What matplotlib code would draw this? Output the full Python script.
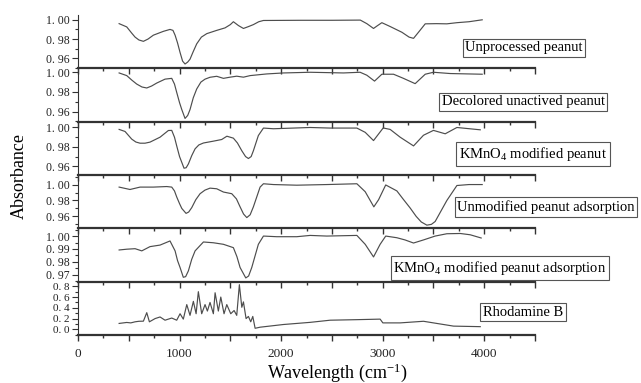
"""
FTIR spectra of peanut shell samples and Rhodamine B
"""
import numpy as np
import matplotlib
matplotlib.use('Agg')
import matplotlib.pyplot as plt
from matplotlib.ticker import MultipleLocator, FuncFormatter

plt.rcParams['font.family'] = ['Liberation Serif', 'DejaVu Serif']
plt.rcParams['mathtext.default'] = 'regular'

# Data (wavenumber, absorbance)
wn_unprocessed = [405, 480, 530, 562, 600, 644, 690, 742, 841, 906, 935, 956, 980, 1005, 1030, 1054, 1080,
                  1103, 1135, 1169, 1215, 1268, 1366, 1448, 1500, 1530, 1580, 1629, 1680, 1727, 1780, 1826,
                  2200, 2500, 2780, 2844, 2910, 2950, 2992, 3074, 3190, 3260, 3304, 3360, 3419, 3530, 3632,
                  3731, 3850, 3980]
ab_unprocessed = [0.996, 0.9926, 0.986, 0.982, 0.979, 0.9776, 0.980, 0.984, 0.988, 0.990, 0.989, 0.984,
                  0.976, 0.966, 0.957, 0.954, 0.956, 0.959, 0.967, 0.975, 0.982, 0.9856, 0.989, 0.9916,
                  0.995, 0.998, 0.994, 0.991, 0.993, 0.995, 0.998, 0.9993, 0.9995, 0.9995, 0.9997, 0.996,
                  0.991, 0.994, 0.997, 0.993, 0.987, 0.982, 0.9807, 0.988, 0.9958, 0.996, 0.9958, 0.997,
                  0.998, 1.000]

wn_decolored = [405, 480, 530, 578, 630, 677, 725, 775, 857, 923, 950, 972, 1000, 1022, 1054, 1080, 1103,
                1135, 1169, 1210, 1251, 1300, 1366, 1432, 1497, 1563, 1629, 1695, 1859, 2023, 2286, 2614,
                2778, 2844, 2920, 2992, 3107, 3200, 3320, 3419, 3500, 3665, 3980]
ab_decolored = [0.9993, 0.9966, 0.992, 0.988, 0.985, 0.984, 0.986, 0.989, 0.993, 0.9938, 0.988, 0.9795,
                0.969, 0.962, 0.953, 0.956, 0.962, 0.974, 0.983, 0.990, 0.993, 0.9949, 0.9959, 0.9938,
                0.995, 0.996, 0.995, 0.9966, 0.9983, 0.9993, 1.000, 0.9993, 1.000, 0.997, 0.991, 0.998,
                0.998, 0.994, 0.9884, 0.998, 1.000, 0.9987, 0.998]

wn_kmno4 = [405, 463, 529, 570, 611, 660, 709, 808, 890, 923, 950, 972, 1000, 1022, 1044, 1065, 1087, 1120,
            1153, 1190, 1235, 1333, 1415, 1466, 1530, 1570, 1613, 1650, 1678, 1705, 1727, 1776, 1826, 1924,
            2121, 2286, 2483, 2746, 2828, 2910, 3005, 3074, 3172, 3304, 3402, 3500, 3616, 3731, 3961]
ab_kmno4 = [0.998, 0.9959, 0.988, 0.985, 0.9838, 0.9838, 0.9849, 0.990, 0.9969, 0.997, 0.990, 0.981,
            0.970, 0.964, 0.958, 0.9585, 0.9624, 0.971, 0.978, 0.982, 0.984, 0.9859, 0.9876, 0.991, 0.989,
            0.984, 0.976, 0.970, 0.968, 0.970, 0.976, 0.9917, 0.9994, 0.9987, 0.9994, 1.000, 0.9994,
            0.9994, 0.995, 0.9865, 0.9995, 0.998, 0.990, 0.981, 0.992, 0.997, 0.9935, 1.000, 0.9976]

wn_unmod_ads = [405, 512, 611, 742, 874, 923, 950, 972, 1000, 1022, 1064, 1090, 1120, 1160, 1202, 1250,
                1300, 1366, 1432, 1514, 1560, 1596, 1630, 1662, 1695, 1727, 1793, 1826, 1924, 2154, 2450,
                2746, 2828, 2913, 2960, 3030, 3140, 3200, 3271, 3330, 3380, 3435, 3480, 3517, 3632, 3731,
                3850, 3980]
ab_unmod_ads = [0.9968, 0.9938, 0.9968, 0.9968, 0.9975, 0.9968, 0.992, 0.9844, 0.976, 0.970, 0.9638,
                0.9655, 0.971, 0.981, 0.9885, 0.993, 0.9955, 0.9947, 0.9906, 0.9885, 0.982, 0.972,
                0.963, 0.9585, 0.962, 0.972, 0.9968, 1.001, 1.000, 0.9992, 1.000, 1.001, 0.991, 0.972,
                0.981, 0.9995, 0.992, 0.982, 0.9705, 0.960, 0.953, 0.949, 0.950, 0.9536, 0.980, 0.9988,
                1.000, 1.000]

wn_kmno4_ads = [405, 480, 562, 628, 709, 808, 906, 956, 980, 1005, 1037, 1060, 1087, 1120, 1153, 1235,
                1333, 1432, 1530, 1565, 1596, 1652, 1680, 1711, 1776, 1826, 1957, 2154, 2286, 2450, 2746,
                2828, 2910, 2975, 3030, 3140, 3220, 3304, 3402, 3517, 3632, 3764, 3862, 3970]
ab_kmno4_ads = [0.9892, 0.9898, 0.9902, 0.9885, 0.9918, 0.993, 0.9962, 0.9885, 0.981, 0.9756, 0.968,
                0.9685, 0.973, 0.982, 0.9885, 0.9954, 0.9948, 0.9936, 0.991, 0.984, 0.9756, 0.9675,
                0.969, 0.9756, 0.9936, 1.000, 0.9995, 0.9995, 1.0005, 1.000, 1.0005, 0.9936, 0.9838,
                0.9936, 1.000, 0.9987, 0.997, 0.9946, 0.997, 1.000, 1.0018, 1.002, 1.001, 0.9985]

wn_rhodamine = [405, 480, 520, 562, 600, 644, 677, 703, 759, 808, 857, 923, 972, 1005, 1037, 1071, 1103,
                1136, 1163, 1185, 1218, 1251, 1274, 1300, 1333, 1350, 1382, 1406, 1438, 1465, 1504, 1537,
                1563, 1589, 1613, 1629, 1655, 1678, 1701, 1721, 1744, 1793, 2023, 2286, 2483, 2746, 2975,
                3002, 3172, 3402, 3500, 3698, 3961]
ab_rhodamine = [0.11, 0.128, 0.12, 0.14, 0.15, 0.152, 0.31, 0.14, 0.20, 0.23, 0.17, 0.21, 0.17, 0.29,
                0.19, 0.46, 0.26, 0.52, 0.29, 0.70, 0.29, 0.46, 0.34, 0.50, 0.29, 0.68, 0.34, 0.60, 0.29,
                0.46, 0.29, 0.35, 0.26, 0.83, 0.41, 0.51, 0.20, 0.24, 0.14, 0.24, 0.02, 0.04, 0.09, 0.13,
                0.17, 0.18, 0.19, 0.12, 0.12, 0.15, 0.12, 0.06, 0.05]

wavenumbers = [wn_unprocessed, wn_decolored, wn_kmno4, wn_unmod_ads, wn_kmno4_ads, wn_rhodamine]
absorbances = [ab_unprocessed, ab_decolored, ab_kmno4, ab_unmod_ads, ab_kmno4_ads, ab_rhodamine]
labels = ['Unprocessed peanut', 'Decolored unactived peanut', 'KMnO$_4$ modified peanut',
          'Unmodified peanut adsorption', 'KMnO$_4$ modified peanut adsorption', 'Rhodamine B']

# Axis settings per panel
ylims = [(0.9495, 1.005), (0.9497, 1.004), (0.951, 1.006), (0.945, 1.012), (0.9646, 1.006), (-0.105, 0.886)]
ymajor = [0.02, 0.02, 0.02, 0.02, 0.01, 0.2]
yminor = [0.01, 0.01, 0.01, 0.01, 0.005, 0.1]
ydigits = [2, 2, 2, 2, 2, 1]
ytick_size = [8.5, 8.5, 8.5, 8.5, 8.5, 8]
label_pos = [(524, 48), (523, 102), (533, 154), (546, 207), (500, 268), (523, 312)]   # pixel centres

W, H = 641, 383
fig, axs = plt.subplots(6, 1, figsize=(W / 100, H / 100), dpi=100, sharex=True)
fig.subplots_adjust(left=78 / W, right=535 / W, top=1 - 15 / H, bottom=1 - 335 / H, hspace=0)

line_col = '#4d4d4d'
spine_col = '#333333'

for i, ax in enumerate(axs):
    ax.plot(wavenumbers[i], absorbances[i], color=line_col, lw=0.85)
    ax.set_xlim(0, 4500)
    ax.set_ylim(ylims[i])
    ax.spines['top'].set_visible(False)
    ax.spines['right'].set_visible(False)
    ax.spines['left'].set_color(spine_col)
    ax.spines['left'].set_linewidth(0.8)
    ax.spines['bottom'].set_color(spine_col)
    ax.spines['bottom'].set_linewidth(1.6)
    ax.set_facecolor('none')

    ax.yaxis.set_major_locator(MultipleLocator(ymajor[i]))
    ax.yaxis.set_minor_locator(MultipleLocator(yminor[i]))
    nd = ydigits[i]
    ax.yaxis.set_major_formatter(FuncFormatter(lambda v, p, nd=nd: ('%.*f' % (nd, v)).replace('.', '. ')))
    ax.tick_params(axis='y', which='major', length=4.5, width=0.8, color=spine_col,
                   labelsize=ytick_size[i], pad=1.5, labelcolor='#222222')
    ax.tick_params(axis='y', which='minor', length=2.5, width=0.8, color=spine_col)

    ax.xaxis.set_major_locator(MultipleLocator(500))
    ax.xaxis.set_minor_locator(MultipleLocator(250))
    ax.xaxis.set_major_formatter(FuncFormatter(lambda v, p: '%d' % v if v % 1000 == 0 and v <= 4000 else ''))
    ax.tick_params(axis='x', which='major', direction='out', length=4.5, width=1.0, color=spine_col,
                   labelsize=9.5, pad=5, labelcolor='#222222')
    ax.tick_params(axis='x', which='minor', direction='out', length=2.5, width=1.0, color=spine_col)

    cx, cy = label_pos[i]
    fig.text(cx / W, 1 - cy / H, labels[i], ha='center', va='center', fontsize=10.5,
             bbox=dict(boxstyle='square,pad=0.18', fc='white', ec='#555555', lw=0.8))

fig.text(19 / W, 1 - 176 / H, 'Absorbance', rotation=90, ha='center', va='center', fontsize=13)
fig.text(337 / W, 1 - 373 / H, 'Wavelength (cm$^{-1}$)', ha='center', va='center', fontsize=13)

plt.savefig('out.png', dpi=100)
plt.close()
